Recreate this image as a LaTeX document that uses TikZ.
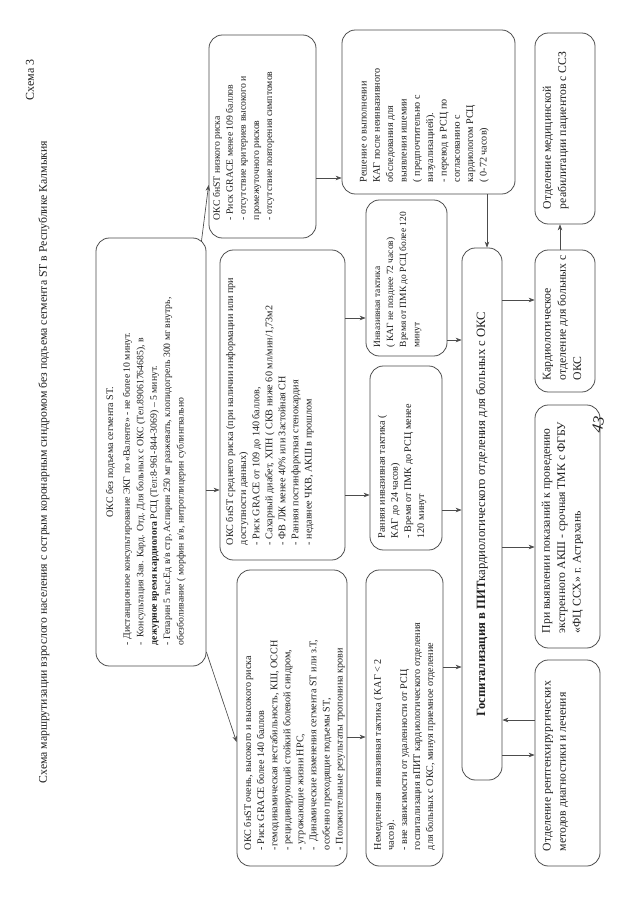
\documentclass[tikz,border=0pt]{standalone}
\usepackage{fontspec}
\setmainfont{Liberation Serif}
\usetikzlibrary{arrows.meta}
\definecolor{ln}{gray}{0.3}
\definecolor{tx}{gray}{0.12}
\newcommand\fs[2]{\fontsize{#1}{#2}\selectfont}
\newcommand\rbox[5]{\node[box, minimum width={(#5-#3)*0.75pt}, minimum height={(#4-#2)*0.75pt}] (#1) at ({(#2+#4)/2},{(#3+#5)/2}) {};}
\begin{document}
\begin{tikzpicture}[x=0.75pt,y=-0.75pt,
  box/.style={draw=ln, line width=0.6pt, rounded corners=10pt, rotate=90, inner sep=0pt},
  txt/.style={rotate=90, anchor=north west, align=left, inner sep=0pt, text=tx},
  arr/.style={draw=ln, line width=0.5pt, -{Stealth[length=4.5pt,width=3.4pt]}},
]
\fill[white] (0,0) rectangle (640,905);
\useasboundingbox (0,0) rectangle (640,905);

% header
\node[rotate=90, text=tx, font=\fs{9}{11}] (s3) at (30,80) {Схема 3};
\node[rotate=90, text=tx, font=\fs{8.8}{11}] (ttl) at (44,462) {Схема маршрутизации взрослого населения с острым коронарным синдромом без подъема сегмента ST в Республике Калмыкия};

% boxes
\rbox{main}{96}{238}{206}{666}
\rbox{low}{209}{35}{316}{238}
\rbox{mid}{220}{250}{345}{560}
\rbox{vhigh}{237}{570}{347}{866}
\rbox{imm}{366}{570}{443}{866}
\rbox{early}{370}{366}{442}{550}
\rbox{inv}{366}{200}{447}{356}
\rbox{dec}{342}{30}{515}{194}
\rbox{hosp}{462}{248}{502}{780}
\rbox{rehab}{535}{33}{595}{224}
\rbox{card}{535}{250}{595}{392}
\rbox{pri}{535}{405}{600}{648}
\rbox{rent}{535}{660}{600}{866}

% texts
\node[rotate=90, anchor=north, inner sep=0pt, text=tx, font=\fs{7.5}{10}] (maint) at ([shift={(10,0)}]main.north) {ОКС без подъема сегмента ST.};
\node[txt, font=\fs{7.3}{10.1}] (mainb) at ([shift={(27,-21)}]main.north west) {%
- Дистанционное консультирование ЭКГ по «Валенте» - не более 10 минут.\\
-\ \ Консультация Зав. Кард. Отд. Для больных с ОКС (Тел.89061764685), в\\
\textbf{дежурное время кардиолога} РСЦ (Тел:8-961-844-3069) – 5 минут.\\
- Гепарин 5 тыс.Ед в/в стр, Аспирин 250 мг разжевать, клопидогрель 300 мг внутрь,\\
обезболивание ( морфин в/в, нитроглицерин сублингвально};

\node[txt, font=\fs{7.3}{9.8}] (lowt) at ([shift={(4,-18)}]low.north west) {%
ОКС бнST низкого риска\\
- Риск GRACE менее 109 баллов\\
- отсутствие критериев высокого и\\
промежуточного рисков\\
- отсутствие повторения симптомов};

\node[txt, font=\fs{7.6}{9.8}] (midt) at ([shift={(6,-15)}]mid.north west) {%
ОКС бнST среднего риска (при наличии информации или при\\
доступности данных)\\
- Риск GRACE от 109 до 140 баллов,\\
- Сахарный диабет, ХПН ( СКВ ниже 60 мл/мин/1,73м2\\
- ФВ ЛЖ менее 40\% или Застойная СН\\
- Ранняя постинфарктная стенокардия\\
- недавнее ЧКВ, АКШ в прошлом};

\node[txt, font=\fs{7.6}{9.8}] (vhight) at ([shift={(7,-16)}]vhigh.north west) {%
ОКС бнST очень, высокого и высокого риска\\
- Риск GRACE более 140 баллов\\
-гемодинамическая нестабильность, КШ, ОССН\\
- рецидивирующий стойкий болевой синдром,\\
- угрожающие жизни НРС,\\
-\ \ Динамические изменения сегмента ST или з.Т,\\
особенно преходящие подъемы ST,\\
- Положительные результаты тропонина крови};

\node[txt, font=\fs{7.6}{9.8}] (immt) at ([shift={(8,-16)}]imm.north west) {%
Немедленная\ \ инвазивная тактика ( КАГ < 2\\
часов).\\
- вне зависимости от удаленности от РСЦ\\
госпитализация вПИТ кардиологического отделения\\
для больных с ОКС, минуя приемное отделение};

\node[txt, font=\fs{7.6}{9.8}] (earlyt) at ([shift={(8,-12)}]early.north west) {%
Ранняя инвазивная тактика (\\
КАГ до 24 часов)\\
- Время от ПМК до РСЦ менее\\
120 минут};

\node[txt, font=\fs{7.1}{9.8}] (invt) at ([shift={(8,-9)}]inv.north west) {%
Инвазивная тактика\\
( КАГ не позднее 72 часов)\\
Время от ПМК до РСЦ более 120\\
минут};

\node[txt, font=\fs{7.6}{10}] (dect) at ([shift={(18,-12)}]dec.north west) {%
Решение о выполнении\\
КАГ после неинвазивного\\
обследования для\\
выявления ишемии\\
( предпочтительно с\\
визуализацией).\\
- перевод в РСЦ по\\
согласованию с\\
кардиологом РСЦ\\
( 0-72 часов)};

\node[rotate=90, inner sep=0pt, text=tx, font=\fs{9.5}{11}] (hospt) at (hosp.center) {\textbf{Госпитализация в ПИТ}кардиологического отделения для больных с ОКС};

\node[txt, font=\fs{8.8}{11.5}] (rehabt) at ([shift={(8,-15)}]rehab.north west) {%
Отделение медицинской\\
реабилитации пациентов с ССЗ};

\node[txt, font=\fs{8.8}{11.5}] (cardt) at ([shift={(8,-12)}]card.north west) {%
Кардиологическое\\
отделение для больных с\\
ОКС};

\node[txt, font=\fs{8.8}{11.5}] (prit) at ([shift={(7,-15)}]pri.north west) {%
При выявлении показаний к проведению\\
экстренного АКШ - срочная ТМК с ФГБУ\\
«ФЦ ССХ» г. Астрахань};

\node[txt, font=\fs{8.8}{11.5}] (rentt) at ([shift={(8,-15)}]rent.north west) {%
Отделение рентгенхирургических\\
методов диагностики и лечения};

\node[rotate=80, text=tx, font=\fs{12}{13}\itshape] (pg) at (598,425) {43};

% helper coordinates
\foreach \yy in {178,185,300,318,340,490,495,510,547,652,667,720,737,742,755} {\coordinate (h\yy) at (0,\yy);}
\coordinate (v487) at (487,0);
\coordinate (v560) at (560,0);

% connectors
\draw[arr] ([shift={(-5,4)}]main.south east) -- (low.north |- h185);
\draw[arr] (main.south |- h490) -- (mid.north |- h490);
\draw[arr] (main.south |- h652) -- (vhigh.north |- h742);
\draw[arr] (low.south |- h178) -- (dec.north |- h178);
\draw[arr] (mid.south |- h318) -- (inv.north |- h318);
\draw[arr] (mid.south |- h495) -- (early.north |- h495);
\draw[arr] (vhigh.south |- h737) -- (imm.north |- h737);
\draw[arr] (inv.south |- h340) -- (hosp.north |- h340);
\draw[arr] (early.south |- h510) -- (hosp.north |- h510);
\draw[arr] (imm.south |- h667) -- (hosp.north |- h667);
\draw[arr] (dec.west -| v487) -- (hosp.east -| v487);
\draw[arr] (hosp.south |- h300) -- (card.north |- h300);
\draw[arr] (card.east -| v560) -- (rehab.west -| v560);
\draw[arr] (hosp.south |- h547) -- (pri.north |- h547);
\draw[arr] (hosp.south |- h755) -- (rent.north |- h755);
\draw[arr] (rent.north |- h720) -- (hosp.south |- h720);
\end{tikzpicture}
\end{document}
